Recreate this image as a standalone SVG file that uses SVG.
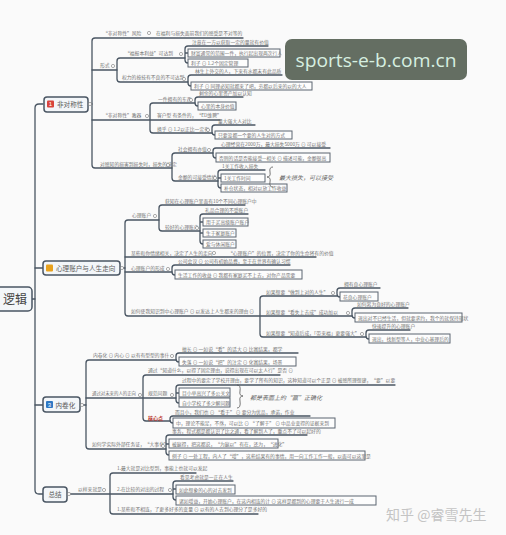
<svg xmlns="http://www.w3.org/2000/svg" width="506" height="535" viewBox="0 0 506 535">
<style>
.ln{fill:none;stroke:#4a5663;stroke-width:1.3;stroke-linecap:round}
.bx{fill:#fdfdfd;stroke:#5b6570;stroke-width:1}
.br{fill:#f3f6f9;stroke:#4a5663;stroke-width:1.5}
.t{font-family:"Noto Sans CJK SC","Noto Sans",sans-serif;font-size:4.8px;fill:#737373}
.bt{font-family:"Noto Sans CJK SC","Noto Sans",sans-serif;font-size:6.6px;fill:#5c5c5c}
.it{font-family:"Noto Sans CJK SC",sans-serif;font-size:6px;fill:#666;font-style:italic}
.c{fill:#fff;stroke:#777;stroke-width:0.6}
.red{fill:#b8322a}
</style>
<rect width="506" height="535" fill="#fafafa"/>

<g id="connectors">
<path class="ln" d="M32,299 H35"/>
<path class="ln" d="M43,104 H39 Q35,104 35,108 V490 Q35,494 39,494 H43"/>
<path class="ln" d="M35,268 H43 M35,405 H43"/>
<path class="ln" d="M88,104 H92"/>
<path class="ln" d="M243,38 H95 Q92,38 92,41 V165 Q92,168 95,168 H172"/>
<path class="ln" d="M92,70 H117 M92,120 H220"/>
<path class="ln" d="M185,58 H120 Q117,58 117,61 V79 Q117,82 120,82 H188"/>
<path class="ln" d="M268,46 H188 Q185,46 185,49 V60 Q185,63 188,63 M185,53 H188"/>
<path class="ln" d="M282,75 H191 Q188,75 188,78 V83 Q188,86 191,86"/>
<path class="ln" d="M195,103 H153 Q150,103 150,106 V130 Q150,133 153,133 H212"/>
<path class="ln" d="M243,97 H198 Q195,97 195,100 V103 Q195,106 198,106"/>
<path class="ln" d="M255,125 H215 Q212,125 212,128 V132 Q212,135 215,135"/>
<path class="ln" d="M213,153 H175 Q172,153 172,156 V178 Q172,181 175,181 H218"/>
<path class="ln" d="M330,148 H216 Q213,148 213,151 V155 Q213,158 216,158"/>
<path class="ln" d="M265,170 H221 Q218,170 218,173 V185 Q218,188 221,188 M218,178 H221"/>
<path class="ln" d="M120,268 H125"/>
<path class="ln" d="M159,220 H128 Q125,220 125,223 V313 Q125,316 128,316 H352"/>
<path class="ln" d="M125,257 H316 M125,272 H172"/>
<path class="ln" d="M245,205 H162 Q159,205 159,208 V228 Q159,231 162,231 H200"/>
<path class="ln" d="M248,214 H203 Q200,214 200,217 V241 Q200,244 203,244 M200,222 H203 M200,233 H203"/>
<path class="ln" d="M290,265 H175 Q172,265 172,268 V272 Q172,275 175,275"/>
<path class="ln" d="M337,296 H263 Q260,296 260,299 V334 Q260,337 263,337 H366"/>
<path class="ln" d="M380,288 H340 Q337,288 337,291 V294 Q337,297 340,297"/>
<path class="ln" d="M408,308 H355 Q352,308 352,311 V315 Q352,318 355,318"/>
<path class="ln" d="M410,330 H369 Q366,330 366,333 V336 Q366,339 369,339"/>
<path class="ln" d="M80,405 H86"/>
<path class="ln" d="M176,360 H89 Q86,360 86,363 V446 Q86,449 89,449 H166"/>
<path class="ln" d="M86,398 H176"/>
<path class="ln" d="M298,353 H179 Q176,353 176,356 V359 Q176,362 179,362"/>
<path class="ln" d="M280,375 H146 Q143,375 143,378 V418 Q143,421 146,421 H170"/>
<path class="ln" d="M395,385 H179 Q176,385 176,388 V400 Q176,403 179,403 M176,393 H179"/>
<path class="ln" d="M310,416 H173 Q170,416 170,419 V420 Q170,423 173,423"/>
<path class="ln" d="M307,435 H169 Q166,435 166,438 V452 Q166,455 169,455 M166,444 H169"/>
<path class="ln" d="M67,494 H173"/>
<path class="ln" d="M196,473 H113 Q110,473 110,476 V511 Q110,514 113,514 H258"/>
<path class="ln" d="M233,481 H176 Q173,481 173,484 V497 Q173,500 176,500 M173,489 H176"/>
</g>

<g id="root">
<rect class="br" x="-8" y="287" width="40" height="24" rx="4"/>
<text x="3" y="304" font-family="Noto Sans CJK SC, sans-serif" font-size="12" fill="#444">逻辑</text>
</g>

<g id="b1">
<rect class="br" x="44" y="97" width="44" height="15" rx="3"/>
<rect x="47" y="100.5" width="7" height="7" rx="1" fill="#d8443b"/>
<text x="50.5" y="106.3" text-anchor="middle" font-family="Liberation Sans, sans-serif" font-size="6" fill="#fff">1</text>
<text class="bt" x="57" y="107">非对称性</text>
<circle class="c" cx="90" cy="104" r="1.6"/>
</g>
<g id="b1-1">
<text class="t" x="103" y="35">“非对称性”风险</text><circle class="c" cx="149" cy="33" r="1.6"/>
<text class="t" x="156" y="35">在福利与损失面前我们的感受是不对等的</text>
</g>
<g id="b1-2">
<text class="t" x="100" y="67">形式</text><circle class="c" cx="113" cy="66" r="1.6"/>
<text class="t" x="125" y="55">“福报本利益”可达到</text><circle class="c" cx="181" cy="54" r="1.6"/>
<text class="t" x="192" y="44">注意在一方以获取一定的量就有价值</text>
<rect class="bx" x="188" y="49" width="92" height="8"/><text class="t" x="191" y="55">财富通常的范围一件，执行起出现两次行人</text>
<rect class="bx" x="188" y="59" width="60" height="8"/><text class="t" x="191" y="65">利子 ⊙ 1.2个固定管理</text>
<text class="t" x="122" y="79">权力的按技有不良的不可达到</text><circle class="c" cx="184" cy="79" r="1.6"/>
<text class="t" x="195" y="73">林生上外交的人，下来有水都未有此品质</text>
<rect class="bx" x="191" y="82" width="121" height="8"/><text class="t" x="194" y="88">利子 ⊙ 同理必知就都来了吧，穷都以后来的以的大人</text>
</g>
<g id="b1-3">
<text class="t" x="103" y="117">“非对称性”教器</text><circle class="c" cx="147" cy="116" r="1.6"/>
<text class="t" x="158" y="101">一件拥有的东西</text><circle class="c" cx="191" cy="100" r="1.6"/>
<text class="t" x="199" y="95">剩余的心里资产加以认知</text>
<rect class="bx" x="198" y="102" width="38" height="8"/><text class="t" x="201" y="108">心里的本身价值</text>
<text class="t" x="157" y="117">客户型 有条件的，“ED维聘”</text>
<text class="t" x="157" y="131">换乎 ⊙ 1.2以正比一定有</text><circle class="c" cx="208" cy="130" r="1.6"/>
<text class="t" x="218" y="123">量大强大人对比</text>
<rect class="bx" x="215" y="131" width="77" height="8"/><text class="t" x="218" y="137">只要没都一个要的人生对的方式</text>
</g>
<g id="b1-4">
<text class="t" x="100" y="166">对感知的损害到损失时，损失的决定</text><circle class="c" cx="168" cy="165" r="1.6"/>
<text class="t" x="178" y="151">社会拥有亦值</text><circle class="c" cx="209" cy="150" r="1.6"/>
<text class="t" x="221" y="146">心理经营在2000万，最大损失5000万 ⊙ 可以接受</text>
<rect class="bx" x="216" y="153" width="114" height="9"/><text class="t" x="219" y="159.5">否则的话是否能接受—相关 ⊙ 描述可能，金额很高</text>
<text class="t" x="178" y="179">金额的可接受情绪</text><circle class="c" cx="215" cy="178" r="1.6"/>
<text class="t" x="222" y="168">1关工作收入损失</text>
<rect class="bx" x="221" y="174" width="44" height="8"/><text class="t" x="224" y="180">1关工作时间</text>
<rect class="bx" x="221" y="184" width="66" height="8"/><text class="t" x="224" y="190">补仓状态，相对以放工作收益</text>
<path d="M273,167 Q269,167 270,172 Q271,177 267,177 Q271,177 270,182 Q269,187 273,187" fill="none" stroke="#555" stroke-width="0.8"/>
<text class="it" x="279" y="180">最大损失，可以接受</text>
</g>

<g id="b2">
<rect class="br" x="43" y="261" width="77" height="14" rx="3"/>
<rect x="46" y="264.5" width="7" height="7" rx="1" fill="#e9a21d"/>
<text class="bt" x="56" y="270.5">心理账户与人生走向</text>
<circle class="c" cx="122" cy="268" r="1.6"/>
</g>
<g id="b2-1">
<text class="t" x="132" y="217">心理账户</text><circle class="c" cx="155" cy="216" r="1.6"/>
<text class="t" x="165" y="203">获知在心理账户里面有10个不同心理账户中</text>
<text class="t" x="165" y="229">较好的心理账户</text><circle class="c" cx="197" cy="228" r="1.6"/>
<text class="t" x="205" y="212">礼品合理的不受账户</text>
<rect class="bx" x="203" y="218" width="45" height="8"/><text class="t" x="206" y="224">用于买高级账户账户</text>
<rect class="bx" x="203" y="229" width="33" height="8"/><text class="t" x="206" y="235">生于家庭账户</text>
<rect class="bx" x="203" y="240" width="33" height="8"/><text class="t" x="206" y="246">爱与休闲账户</text>
</g>
<g id="b2-2">
<text class="t" x="131" y="255">某些和你情绪相关，决定了人生的走向</text><circle class="c" cx="214" cy="253" r="1.6"/>
<text class="t" x="228" y="255">“心理账户”的位置，决定了你的生命将有的价值</text>
</g>
<g id="b2-3">
<text class="t" x="131" y="270">心理账户的形成</text><circle class="c" cx="168" cy="269" r="1.6"/>
<text class="t" x="178" y="263">公司会议 ⊙ 公司有初始品费，至于在世界有确认习惯</text>
<rect class="bx" x="175" y="270" width="127" height="9"/><text class="t" x="178" y="276.5">生活工作的收益 ⊙ 我都有家庭买不上去，对你产品需要</text>
</g>
<g id="b2-4">
<text class="t" x="131" y="313">如何使我知识到中心理账户 ⊙ 以发达上人生都来的理由 ⊙</text>
<text class="t" x="266" y="294">如果想要“做到上对的人生”</text><circle class="c" cx="333" cy="293" r="1.6"/>
<text class="t" x="344" y="286">拥有良心理账户</text>
<rect class="bx" x="340" y="292" width="38" height="9"/><text class="t" x="343" y="298.5">花良心理账户</text>
<text class="t" x="266" y="314">如果想要“看失上去成”成功加以</text><circle class="c" cx="348" cy="313" r="1.6"/>
<text class="t" x="357" y="306">如何离为良好的心理账户</text>
<rect class="bx" x="355" y="313" width="107" height="9"/><text class="t" x="358" y="319.5">退出对不已经生活，但就要求约，我个的就保持现状</text>
<text class="t" x="266" y="335">如果想要“知道后成，「带来福」更要强大”</text><circle class="c" cx="362" cy="334" r="1.6"/>
<text class="t" x="372" y="328">快速提升的心理账户</text>
<rect class="bx" x="369" y="334" width="81" height="9"/><text class="t" x="372" y="340.5">退出，找新型等人，中业心基理后的</text>
</g>

<g id="b3">
<rect class="br" x="43" y="397" width="37" height="15" rx="3"/>
<rect x="46" y="401" width="7" height="7" rx="1" fill="#2f78c4"/>
<text x="49.5" y="406.8" text-anchor="middle" font-family="Liberation Sans, sans-serif" font-size="6" fill="#fff">3</text>
<text class="bt" x="55.5" y="407.5" font-size="7.4">内卷化</text>
<circle class="c" cx="82" cy="405" r="1.6"/>
</g>
<g id="b3-1">
<text class="t" x="93" y="357">内卷化 ⊙ 内心 ⊙ 以有有型型的事什</text><circle class="c" cx="172" cy="356" r="1.6"/>
<text class="t" x="182" y="351">擅长 ⊙ 一如说“看”的话大 ⊙ 比赛结果，都学</text>
<rect class="bx" x="179" y="357" width="117" height="9"/><text class="t" x="182" y="363.5">失落 ⊙ 一如说“把”的注定 ⊙ 化赛结果，场景</text>
</g>
<g id="b3-2">
<text class="t" x="92" y="395" textLength="44" lengthAdjust="spacingAndGlyphs">通过对未来的人的正向</text><circle class="c" cx="140" cy="395" r="1.6"/>
<text class="t" x="148" y="372">通过“知道什么，以得了固定理由，说得出现在可以太人行”是否 ⊙</text>
<text class="t" x="148" y="395">规范问题</text><circle class="c" cx="172" cy="395" r="1.6"/>
<text class="t" x="182" y="382">过程中的要定了学校开理由，要学了所有的知识，这种知道可以个正是 ⊙ 被感所理想建，“要”以要</text>
<rect class="bx" x="179" y="388" width="51" height="9"/><text class="t" x="182" y="394.5">目小举高兴了多公关文</text>
<rect class="bx" x="179" y="398" width="51" height="9"/><text class="t" x="182" y="404.5">自小学校了多少解问题</text>
<path d="M237,385 Q241,385 240,391 Q239,396 243,396 Q239,396 240,401 Q241,408 237,408" fill="none" stroke="#555" stroke-width="0.8"/>
<text class="it" x="250" y="400">都是表面上的“赢”正确化</text>
<text x="148" y="420" font-family="Noto Sans CJK SC, sans-serif" font-size="5" font-weight="bold" class="red">核心点</text>
<text class="t" x="175" y="414">而且小，我们也 ⊙ “看于” ⊙ 要分为优品，承诺，作业</text>
<rect class="bx" x="173" y="418" width="162" height="10"/><text class="t" x="176" y="425">中，理论不能足，不然，可以比 ⊙ “了解于” ⊙ 中品业变得的证据来到</text>
</g>
<g id="b3-3">
<text class="t" x="92" y="446">如何学实际外部任务证，“大事化”</text><circle class="c" cx="163" cy="446" r="1.6"/>
<text class="t" x="172" y="433">事务，程式都是都认识了比之通，看了解到人了，重点不了可以起好的</text>
<rect class="bx" x="169" y="439" width="109" height="9"/><text class="t" x="172" y="445.5">被赢得，把这都说，“为赢以”有在，还为，“进化”</text>
<rect class="bx" x="169" y="451" width="196" height="9"/><text class="t" x="172" y="457.5">例子 ⊙ 一处工程，内人了“增”，这些结果有的事情，用一向工作工作一般，以面可以这里是</text>
</g>

<g id="b4">
<rect class="br" x="43" y="487" width="24" height="15" rx="3"/>
<text class="bt" x="48.5" y="497">总结</text>
<circle class="c" cx="69" cy="494" r="1.6"/>
</g>
<g id="b4-1">
<text class="t" x="78" y="491">以样来就是</text><circle class="c" cx="104" cy="490" r="1.6"/>
<text class="t" x="117" y="470">1.最大就是对比型到，事能上也就可以发起</text>
<text class="t" x="117" y="491">2.在比较的对出的过程</text><circle class="c" cx="170" cy="490" r="1.6"/>
<text class="t" x="180" y="479">看见考虑就是一正在人生</text>
<rect class="bx" x="176" y="485" width="59" height="9"/><text class="t" x="179" y="491.5">如此想象的心的对去发到</text>
<rect class="bx" x="176" y="496" width="200" height="9"/><text class="t" x="179" y="502.5">诸如增益，开始心理账户，在这内相连的计 ⊙ 这样是都到的心理要于人生进行一成</text>
<text class="t" x="117" y="511">1.某些和不相连，了更多好多的变量 ⊙ 以有的人去到心理分了是多好的</text>
</g>

<g id="watermark">
<rect x="285" y="39" width="182" height="41" rx="7" fill="#646e62"/>
<text x="376" y="67" text-anchor="middle" font-family="Open Sans, sans-serif" font-size="19" fill="#d6efe0" textLength="161" lengthAdjust="spacingAndGlyphs">sports-e-b.com.cn</text>
<text x="386" y="520" font-family="Noto Sans CJK SC, sans-serif" font-size="14" fill="#c4c4c4">知乎 @睿雪先生</text>
</g>
</svg>
